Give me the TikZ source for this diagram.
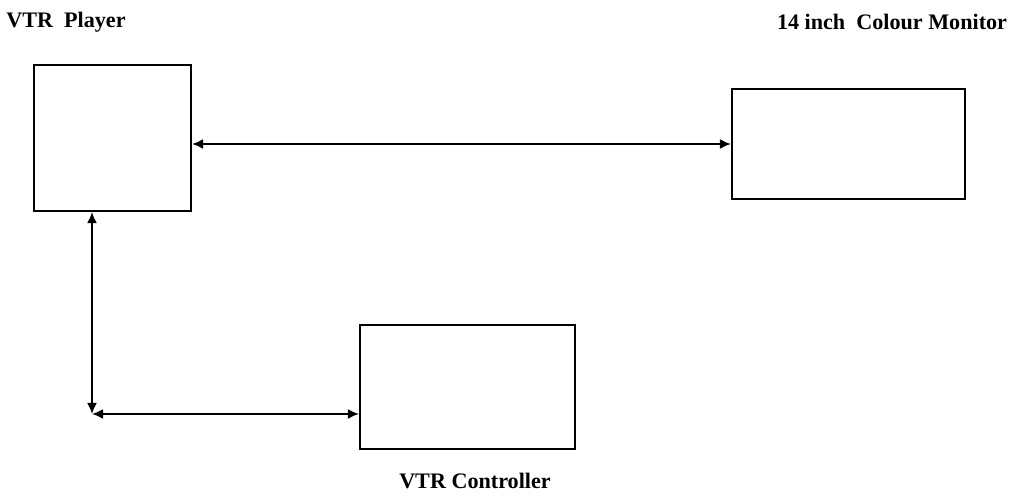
\documentclass[tikz,border=0pt]{standalone}
\usepackage{fontspec}
\setmainfont{Liberation Serif}
\usepackage{tikz}
\usetikzlibrary{arrows.meta}

\begin{document}
\begin{tikzpicture}[
      >=Latex,
      unit/.style={draw, line width=1.2pt, minimum width=#1},
      link/.style={line width=1.1pt,{Latex[length=2.2mm,width=2mm]}-{Latex[length=2.2mm,width=2mm]}},
      caption/.style={font=\fontsize{12.6}{15}\selectfont\bfseries}
    ]

    \path[use as bounding box] (0,0) rectangle (20.3,9.94);

    % Units
    \node[unit=3.14cm, minimum height=2.92cm] (player) at (2.25,7.18) {};
    \node[unit=4.66cm, minimum height=2.2cm] (monitor) at (16.97,7.06) {};
    \node[unit=4.3cm, minimum height=2.48cm] (ctrl) at (9.35,2.2) {};

    % Captions
    \node[caption] (playerlbl) at (1.32,9.5) {VTR\ \ Player};
    \node[caption] (monitorlbl) at (17.84,9.5) {14 inch\ \ Colour Monitor};
    \node[caption] (ctrllbl) at (9.5,0.32) {VTR Controller};

    % Connectors
    \coordinate (corner) at (1.84,1.66);
    \draw[link] (player.east |- monitor.west) -- (monitor.west);
    \draw[link] (corner |- player.south) -- (corner);
    \draw[link] (corner) -- (corner -| ctrl.west);

  \end{tikzpicture}
\end{document}
